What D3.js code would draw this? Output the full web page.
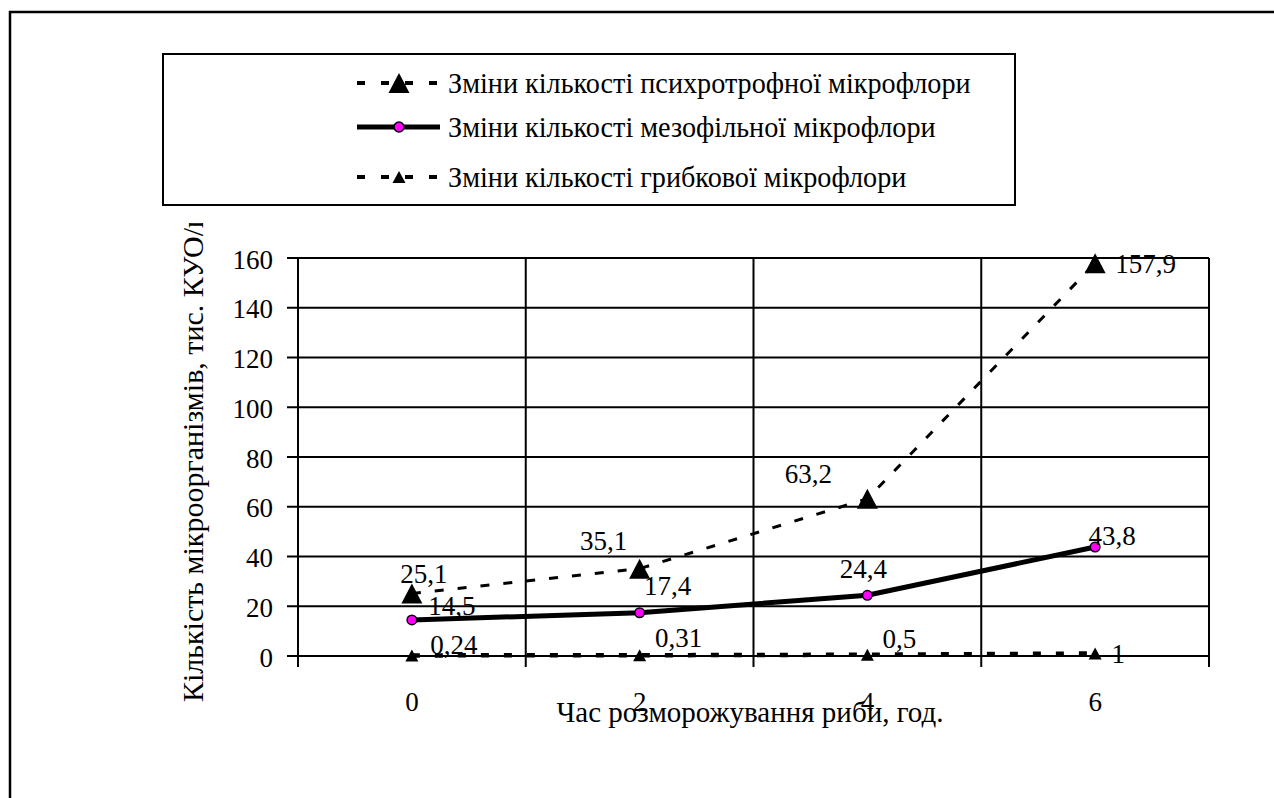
<!DOCTYPE html>
<html>
<head>
<meta charset="utf-8">
<script src="https://cdn.jsdelivr.net/npm/d3@7"></script>
<style>
  html, body { margin: 0; padding: 0; background: #fff; }
  svg { display: block; }
  svg text { font-family: "Liberation Serif", "Times New Roman", serif; fill: #000; }
</style>
</head>
<body>
<svg id="chart" width="1274" height="798"></svg>
<script>
// Thawing time, hours
const categories = ["0", "2", "4", "6"];

// Microorganism counts, thousand CFU
const psychroValues = [25.1, 35.1, 63.2, 157.9];
const mesoValues = [14.5, 17.4, 24.4, 43.8];
const fungalValues = [0.24, 0.31, 0.5, 1];

const yTicks = [0, 20, 40, 60, 80, 100, 120, 140, 160];

const seriesNames = [
  "Зміни кількості психротрофної мікрофлори",
  "Зміни кількості мезофільної мікрофлори",
  "Зміни кількості грибкової мікрофлори"
];

const xTitle = "Час розморожування риби, год.";
const yTitle = "Кількість мікроорганізмів, тис. КУО/г";

// Label placement relative to each marker: [dx, dy, anchor]
const psychroLabelPos = [[12, -11, "middle"], [-36, -19, "middle"], [-59, -16, "middle"], [20, 10, "start"]];
const mesoLabelPos = [[40, -5, "middle"], [28, -18, "middle"], [-4, -17, "middle"], [17, -2, "middle"]];
const fungalLabelPos = [[42, -1, "middle"], [39, -8, "middle"], [32, -7, "middle"], [23, 9, "middle"]];

const fmt = v => String(v).replace(".", ",");
const FONT = "'Liberation Serif', 'Times New Roman', serif";

const svg = d3.select("#chart");

// Outer frame
svg.append("path")
  .attr("d", "M10,800 L10,12 L1280,12")
  .attr("fill", "none").attr("stroke", "#000").attr("stroke-width", 2.5);

// Plot area
const plot = { left: 298, right: 1209, top: 258, bottom: 656 };

const x = d3.scaleBand().domain(categories).range([plot.left, plot.right]).padding(0);
const xc = d => x(d) + x.bandwidth() / 2;
const y = d3.scaleLinear().domain([0, 160]).range([plot.bottom, plot.top]);

// Horizontal grid lines, extended left as outward ticks
svg.append("g")
  .selectAll("line").data(yTicks).join("line")
  .attr("x1", plot.left - 11).attr("x2", plot.right)
  .attr("y1", d => y(d)).attr("y2", d => y(d))
  .attr("stroke", "#000").attr("stroke-width", 2);

// Vertical grid lines at category boundaries, extended below as ticks
const bounds = categories.map(c => x(c)).concat([plot.right]);
svg.append("g")
  .selectAll("line").data(bounds).join("line")
  .attr("x1", d => d).attr("x2", d => d)
  .attr("y1", plot.top).attr("y2", plot.bottom + 11)
  .attr("stroke", "#000").attr("stroke-width", 2);

// Y axis tick labels
const yAxis = svg.append("g")
  .attr("transform", `translate(${plot.left},0)`)
  .call(d3.axisLeft(y).tickValues(yTicks).tickSize(0).tickPadding(25).tickFormat(d3.format("d")));
yAxis.attr("font-family", FONT).attr("font-size", 27);
yAxis.select(".domain").remove();
yAxis.selectAll("text").attr("dy", 10).attr("fill", "#000");

// X axis tick labels
const xAxis = svg.append("g")
  .attr("transform", `translate(0,${plot.bottom})`)
  .call(d3.axisBottom(x).tickSize(0).tickPadding(55));
xAxis.attr("font-family", FONT).attr("font-size", 27);
xAxis.select(".domain").remove();
xAxis.selectAll("text").attr("dy", 0).attr("fill", "#000");

// Axis titles
svg.append("text")
  .attr("x", 750).attr("y", 722)
  .attr("text-anchor", "middle").attr("font-size", 29)
  .text(xTitle);

svg.append("clipPath").attr("id", "ytclip")
  .append("rect").attr("x", 150).attr("y", 223).attr("width", 80).attr("height", 540);
svg.append("g").attr("clip-path", "url(#ytclip)")
  .append("text")
  .attr("transform", "translate(203,702) rotate(-90)")
  .attr("text-anchor", "start").attr("font-size", 30)
  .text(yTitle);

// Series lines
const line = d3.line().x((d, i) => xc(categories[i])).y(d => y(d));

svg.append("path").datum(fungalValues)
  .attr("d", line).attr("fill", "none")
  .attr("stroke", "#000").attr("stroke-width", 4.5).attr("stroke-dasharray", "8,15");

svg.append("path").datum(psychroValues)
  .attr("d", line).attr("fill", "none")
  .attr("stroke", "#000").attr("stroke-width", 3).attr("stroke-dasharray", "9,14");

svg.append("path").datum(mesoValues)
  .attr("d", line).attr("fill", "none")
  .attr("stroke", "#000").attr("stroke-width", 5);

// Triangle markers centred on their bounding box
const triPath = (w, h) => `M0,${-h / 2}L${w / 2},${h / 2}L${-w / 2},${h / 2}Z`;
const bigTri = triPath(21, 20);
const smallTri = triPath(13, 12);

svg.append("g").selectAll("path").data(psychroValues).join("path")
  .attr("d", bigTri)
  .attr("transform", (d, i) => `translate(${xc(categories[i])},${y(d)})`)
  .attr("fill", "#000");

svg.append("g").selectAll("path").data(fungalValues).join("path")
  .attr("d", smallTri)
  .attr("transform", (d, i) => `translate(${xc(categories[i])},${y(d)})`)
  .attr("fill", "#000");

svg.append("g").selectAll("circle").data(mesoValues).join("circle")
  .attr("cx", (d, i) => xc(categories[i])).attr("cy", d => y(d))
  .attr("r", 4.8).attr("fill", "#ff00ff").attr("stroke", "#000").attr("stroke-width", 1.5);

// Value labels
function labels(values, pos) {
  svg.append("g").selectAll("text").data(values).join("text")
    .attr("x", (d, i) => xc(categories[i]) + pos[i][0])
    .attr("y", (d, i) => y(d) + pos[i][1])
    .attr("text-anchor", (d, i) => pos[i][2])
    .attr("font-size", 27)
    .text(d => fmt(d));
}
labels(psychroValues, psychroLabelPos);
labels(mesoValues, mesoLabelPos);
labels(fungalValues, fungalLabelPos);

// Legend
const legend = svg.append("g");
legend.append("rect")
  .attr("x", 163).attr("y", 54).attr("width", 852).attr("height", 151)
  .attr("fill", "#fff").attr("stroke", "#000").attr("stroke-width", 2);

const rowY = [83, 127, 177];
const sampleX1 = 357, sampleX2 = 440, sampleMid = 399;

legend.append("line").attr("x1", sampleX1).attr("x2", sampleX2).attr("y1", rowY[0]).attr("y2", rowY[0])
  .attr("stroke", "#000").attr("stroke-width", 4).attr("stroke-dasharray", "8,16");
legend.append("path").attr("d", bigTri).attr("transform", `translate(${sampleMid},${rowY[0]})`);

legend.append("line").attr("x1", sampleX1).attr("x2", sampleX2).attr("y1", rowY[1]).attr("y2", rowY[1])
  .attr("stroke", "#000").attr("stroke-width", 5);
legend.append("circle").attr("cx", sampleMid).attr("cy", rowY[1]).attr("r", 5)
  .attr("fill", "#ff00ff").attr("stroke", "#000").attr("stroke-width", 1.5);

legend.append("line").attr("x1", sampleX1).attr("x2", sampleX2).attr("y1", rowY[2]).attr("y2", rowY[2])
  .attr("stroke", "#000").attr("stroke-width", 4).attr("stroke-dasharray", "8,16");
legend.append("path").attr("d", smallTri).attr("transform", `translate(${sampleMid},${rowY[2]})`);

legend.selectAll("text.lg").data(seriesNames).join("text")
  .attr("class", "lg")
  .attr("transform", (d, i) => `translate(448,${rowY[i] + 10}) scale(0.94,1)`)
  .attr("font-size", 30)
  .text(d => d);
</script>
</body>
</html>
